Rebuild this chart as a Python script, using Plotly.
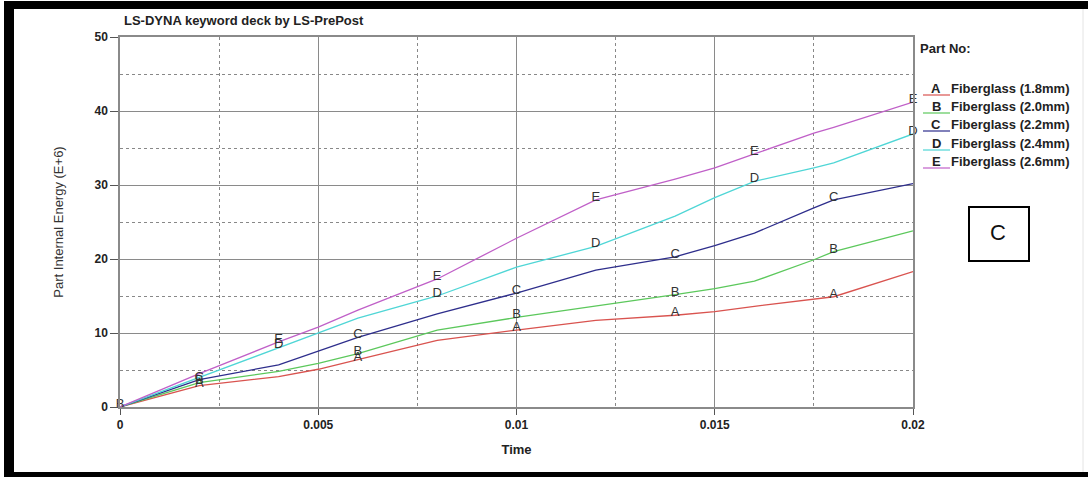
import plotly.graph_objects as go

time = [0, 0.002, 0.004, 0.005, 0.006, 0.008, 0.01, 0.012, 0.014, 0.015, 0.016, 0.0175, 0.018, 0.02]
energy_A = [0, 2.9, 4.1, 5.1, 6.4, 9.0, 10.4, 11.7, 12.4, 12.9, 13.6, 14.5, 14.9, 18.3]
energy_B = [0, 3.3, 4.8, 5.9, 7.2, 10.4, 12.1, 13.6, 15.2, 16.0, 17.0, 19.9, 21.0, 23.8]
energy_C = [0, 3.7, 5.7, 7.6, 9.4, 12.6, 15.4, 18.5, 20.3, 21.8, 23.5, 26.9, 28.0, 30.2]
energy_D = [0, 4.0, 8.1, 10.0, 12.0, 15.0, 18.9, 21.7, 25.8, 28.3, 30.5, 32.3, 33.0, 36.9]
energy_E = [0, 4.5, 8.8, 10.8, 13.1, 17.3, 22.8, 28.0, 30.8, 32.3, 34.2, 37.0, 37.8, 41.2]

letters = ["A", "B", "C", "D", "E"]
part_names = ["Fiberglass (1.8mm)", "Fiberglass (2.0mm)", "Fiberglass (2.2mm)",
              "Fiberglass (2.4mm)", "Fiberglass (2.6mm)"]
label_times = {
    "A": [0.002, 0.006, 0.01, 0.014, 0.018],
    "B": [0.0, 0.002, 0.006, 0.01, 0.014, 0.018],
    "C": [0.002, 0.006, 0.01, 0.014, 0.018],
    "D": [0.004, 0.008, 0.012, 0.016, 0.02],
    "E": [0.004, 0.008, 0.012, 0.016, 0.02],
}
colors = ["#d9534f", "#5cc85c", "#2e2e8c", "#4fd6d6", "#c060c8"]
series = [energy_A, energy_B, energy_C, energy_D, energy_E]

W, H = 1088, 477
L, R, T, B = 120, 913, 37, 407


def px(x):
    return (x - L) / (R - L)


def py(y):
    return (B - y) / (B - T)


def interp(t, xs, ys):
    for i in range(len(xs) - 1):
        if xs[i] <= t <= xs[i + 1]:
            f = (t - xs[i]) / (xs[i + 1] - xs[i]) if xs[i + 1] != xs[i] else 0
            return ys[i] + f * (ys[i + 1] - ys[i])
    return ys[-1]


fig = go.Figure()
for let, name, col, ys in zip(letters, part_names, colors, series):
    fig.add_trace(go.Scatter(x=time, y=ys, mode="lines", name=name,
                             line=dict(color=col, width=1.3), showlegend=False))
for let, col, ys in zip(letters, colors, series):
    ts = label_times[let]
    fig.add_trace(go.Scatter(x=ts, y=[interp(t, time, ys) + 0.3 for t in ts], mode="text",
                             text=[let] * len(ts), textposition="middle center",
                             textfont=dict(family="Liberation Sans Narrow, Liberation Sans, Arial", size=13, color="#333"),
                             showlegend=False, cliponaxis=False))

grid_major = "#8a8a8a"
fig.update_xaxes(range=[0, 0.02], tickvals=[0, 0.005, 0.01, 0.015, 0.02],
                 ticktext=["0", "0.005", "0.01", "0.015", "0.02"],
                 showgrid=True, gridcolor=grid_major, gridwidth=1,
                 showline=True, linecolor=grid_major, linewidth=1.5, mirror=True,
                 ticks="outside", ticklen=6, tickcolor="#555",
                 minor=dict(dtick=0.0025, tick0=0, showgrid=True, gridcolor="#888", griddash="dot", gridwidth=1),
                 tickfont=dict(family="Liberation Sans", size=12, color="#222", weight="bold"),
                 zeroline=False,
                 title=dict(text="<b>Time</b>", font=dict(family="Liberation Sans Narrow, Liberation Sans", size=13, color="#222"), standoff=14))
fig.update_yaxes(range=[0, 50], tickvals=[0, 10, 20, 30, 40, 50],
                 showgrid=True, gridcolor=grid_major, gridwidth=1,
                 showline=True, linecolor=grid_major, linewidth=1.5, mirror=True,
                 ticks="outside", ticklen=8, tickcolor="#555",
                 minor=dict(dtick=5, tick0=0, showgrid=True, gridcolor="#888", griddash="dot", gridwidth=1),
                 tickfont=dict(family="Liberation Sans", size=12, color="#222", weight="bold"),
                 zeroline=False,
                 title=dict(text="Part Internal Energy (E+6)", font=dict(family="Liberation Sans", size=13, color="#333"), standoff=28))

annotations = [
    dict(x=px(122), y=py(20), xref="paper", yref="paper", xanchor="left", yanchor="middle",
         text="<b>LS-DYNA keyword deck by LS-PrePost</b>", showarrow=False,
         font=dict(family="Liberation Sans Narrow, Liberation Sans", size=13, color="#222")),
    dict(x=px(918), y=py(48), xref="paper", yref="paper", xanchor="left", yanchor="middle",
         text="<b>Part No:</b>", showarrow=False,
         font=dict(family="Liberation Sans Narrow, Liberation Sans", size=13, color="#222")),
    dict(x=px(998), y=py(233), xref="paper", yref="paper", xanchor="center", yanchor="middle",
         text="C", showarrow=False, font=dict(family="Liberation Sans", size=22, color="#111")),
]
shapes = []
row_y = [88, 106, 124, 143, 161]
for let, name, col, yy in zip(letters, part_names, colors, row_y):
    annotations.append(dict(x=px(936), y=py(yy), xref="paper", yref="paper", xanchor="center", yanchor="middle",
                            text="<b>" + let + "</b>", showarrow=False,
                            font=dict(family="Liberation Sans Narrow, Liberation Sans", size=13, color="#222")))
    annotations.append(dict(x=px(949), y=py(yy), xref="paper", yref="paper", xanchor="left", yanchor="middle",
                            text="<b>" + name + "</b>", showarrow=False,
                            font=dict(family="Liberation Sans Narrow, Liberation Sans", size=13, color="#222")))
    shapes.append(dict(type="line", xref="paper", yref="paper", x0=px(923), x1=px(950),
                       y0=py(yy + 7), y1=py(yy + 7), line=dict(color=col, width=1.2)))

# C box
shapes.append(dict(type="rect", xref="paper", yref="paper", x0=px(969), x1=px(1029),
                   y0=py(207), y1=py(261), line=dict(color="#000", width=2), fillcolor="rgba(0,0,0,0)"))
# outer black frame bands
for x0, x1, y0, y1 in [(4, 1088, 1, 9), (4, 14, 1, 477), (4, 1088, 472, 477)]:
    shapes.append(dict(type="rect", xref="paper", yref="paper", x0=px(x0), x1=px(x1),
                       y0=py(y1), y1=py(y0), line=dict(width=0), fillcolor="#000"))
shapes.append(dict(type="line", xref="paper", yref="paper", x0=px(1083), x1=px(1083),
                   y0=py(472), y1=py(9), line=dict(color="#e4e4e4", width=1)))

fig.update_layout(width=W, height=H, margin=dict(l=L, r=W - R, t=T, b=H - B, autoexpand=False),
                  plot_bgcolor="white", paper_bgcolor="white",
                  annotations=annotations, shapes=shapes, showlegend=False)

fig.write_html("out.html", config={"displayModeBar": False},
               post_script="document.body.style.margin='0';document.body.style.overflow='hidden';")
